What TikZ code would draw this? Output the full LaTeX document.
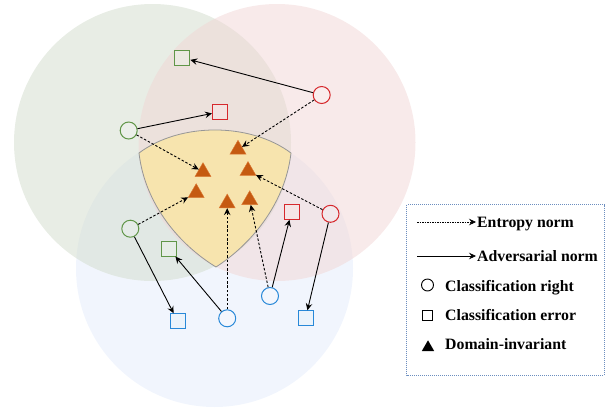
\documentclass[tikz,border=0pt]{standalone}
\usepackage{fontspec}
\setmainfont{Liberation Serif}
\usetikzlibrary{arrows.meta,shapes.geometric}
\definecolor{cgreen}{RGB}{209,219,203}
\definecolor{cred}{RGB}{241,213,213}
\definecolor{cblue}{RGB}{228,236,251}
\definecolor{shieldfill}{RGB}{247,228,174}
\definecolor{shieldline}{RGB}{150,150,150}
\definecolor{sgreen}{RGB}{96,150,72}
\definecolor{sred}{RGB}{214,40,44}
\definecolor{sblue}{RGB}{40,136,216}
\definecolor{triorange}{RGB}{197,90,17}
\definecolor{triedge}{RGB}{220,120,50}
\definecolor{legline}{RGB}{108,142,191}
\begin{document}
\begin{tikzpicture}[x=1pt,y=-1pt,
  conn/.style={line width=0.9pt, -{Stealth[length=7pt,width=6.5pt,inset=2.5pt]}},
  ent/.style={conn, dash pattern=on 2.5pt off 1.8pt},
  adv/.style={conn},
  cright/.style={circle, draw=#1, line width=1pt, minimum size=17pt, inner sep=0pt, fill=white, fill opacity=0.15, text opacity=1},
  cerr/.style={rectangle, draw=#1, line width=1pt, minimum size=15pt, inner sep=0pt, fill=#1!12, fill opacity=0.5, text opacity=1},
  tri/.style={regular polygon, regular polygon sides=3, minimum size=18.5pt, inner sep=0pt, fill=triorange, draw=triedge, line width=0.4pt},
  ltext/.style={anchor=base west, inner sep=0pt, font=\fontsize{15.8}{18}\selectfont\bfseries}
]
\useasboundingbox (0,0) rectangle (605,408);
% big circles
\fill[cblue, fill opacity=0.5] (214.5,268.5) circle[radius=138.5pt];
\fill[cgreen, fill opacity=0.5] (152.5,142.5) circle[radius=138.5pt];
\fill[cred, fill opacity=0.5] (277,142.5) circle[radius=138.5pt];
% shield
\draw[fill=shieldfill, draw=shieldline, line width=0.8pt]
  (139,153) .. controls (180,122.3) and (250,122.3) .. (291,153)
  .. controls (285,205) and (250,245) .. (216,267)
  .. controls (180,245) and (145,205) .. (139,153) -- cycle;
% triangles
\node[tri] (t1) at (238,149.5) {};
\node[tri] (t2) at (203,171.9) {};
\node[tri] (t3) at (248,170.8) {};
\node[tri] (t4) at (196.2,192.9) {};
\node[tri] (t5) at (227.2,203.3) {};
\node[tri] (t6) at (249.7,200) {};
% classification right
\node[cright=sred] (r1) at (321.7,95) {};
\node[cright=sgreen] (g1) at (128.7,130.5) {};
\node[cright=sgreen] (g2) at (130.3,228.7) {};
\node[cright=sred] (r2) at (330.5,213.8) {};
\node[cright=sblue] (b1) at (270,296) {};
\node[cright=sblue] (b2) at (227.2,318.3) {};
% classification error
\node[cerr=sgreen] (gs1) at (182.3,57.7) {};
\node[cerr=sred] (rs1) at (220,111.8) {};
\node[cerr=sred] (rs2) at (291.5,211.7) {};
\node[cerr=sgreen] (gs2) at (168.7,248.5) {};
\node[cerr=sblue] (bs1) at (177.7,321.3) {};
\node[cerr=sblue] (bs2) at (305.5,318.3) {};
% connectors
\draw[adv] (r1) -- (gs1);
\draw[ent] (r1) -- (t1);
\draw[adv] (g1) -- (rs1);
\draw[ent] (g1) -- (t2);
\draw[ent] (g2) -- (t4);
\draw[ent] (r2) -- (t3);
\draw[adv] (g2) -- (bs1);
\draw[adv] (b2) -- (gs2);
\draw[ent] (b2) -- (t5);
\draw[ent] (b1) -- (t6);
\draw[adv] (b1) -- (rs2);
\draw[adv] (r2) -- (bs2);
% legend
\draw[legline, line width=0.8pt, dash pattern=on 1pt off 1pt] (406.5,204.5) rectangle (604,375);
\node[ltext] (l1) at (477,227.3) {Entropy norm};
\node[ltext] (l2) at (477,261) {Adversarial norm};
\node[ltext] (l3) at (445,291) {Classification right};
\node[ltext] (l4) at (445,320.5) {Classification error};
\node[ltext] (l5) at (445,349.5) {Domain-invariant};
\coordinate (l1s) at (417,222);
\coordinate (l1e) at (476,222);
\coordinate (l2s) at (417,256);
\coordinate (l2e) at (476,256);
\draw[conn, line width=0.6pt, dash pattern=on 1.5pt off 1pt] (l1s) -- (l1e);
\draw[conn, line width=0.6pt] (l2s) -- (l2e);
\node[circle, draw=black, line width=0.9pt, minimum size=12pt, inner sep=0pt] (s3) at (427.5,285) {};
\node[rectangle, draw=black, line width=0.8pt, minimum size=10pt, inner sep=0pt] (s4) at (427,315) {};
\node[regular polygon, regular polygon sides=3, minimum size=14.4pt, inner sep=0pt, fill=black] (s5) at (428,347.5) {};
\end{tikzpicture}
\end{document}
